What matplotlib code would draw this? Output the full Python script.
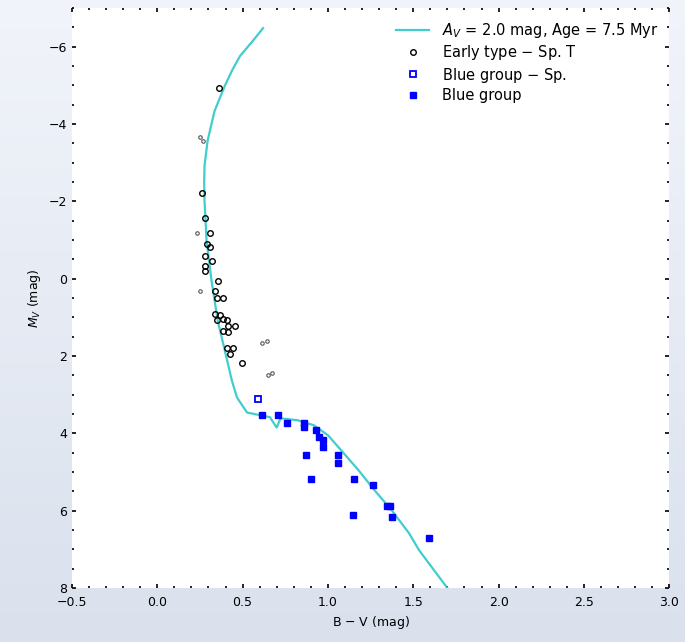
import numpy as np
import matplotlib
matplotlib.use('Agg')
import matplotlib.pyplot as plt

plt.rcParams['font.family'] = 'DejaVu Sans'
plt.rcParams['font.size'] = 9

# isochrone (A_V = 2.0 mag, 7.5 Myr)
iso_bv = [0.62, 0.56, 0.485, 0.44, 0.396, 0.336, 0.295, 0.277, 0.275, 0.277, 0.289,
          0.318, 0.354, 0.396, 0.437, 0.467, 0.526, 0.603, 0.66, 0.70, 0.722, 0.823,
          0.918, 1.001, 1.078, 1.179, 1.273, 1.374, 1.475, 1.534, 1.70]
iso_mv = [-6.48, -6.15, -5.76, -5.40, -4.99, -4.34, -3.57, -2.92, -2.5, -2.02, -0.98,
          0.05, 1.08, 1.86, 2.63, 3.07, 3.46, 3.53, 3.58, 3.85, 3.61, 3.66,
          3.79, 4.05, 4.44, 4.95, 5.47, 5.99, 6.58, 7.02, 8.0]

# early type stars with spectral types
early_bv = [0.36, 0.265, 0.277, 0.307, 0.289, 0.307, 0.277, 0.277, 0.318, 0.277,
            0.354, 0.336, 0.348, 0.384, 0.336, 0.366, 0.384, 0.348, 0.407, 0.413,
            0.455, 0.384, 0.413, 0.407, 0.443, 0.425, 0.496]
early_mv = [-4.93, -2.22, -1.58, -1.19, -0.91, -0.81, -0.60, -0.34, -0.47, -0.21,
            0.05, 0.31, 0.49, 0.49, 0.90, 0.95, 1.03, 1.08, 1.08, 1.21,
            1.21, 1.34, 1.39, 1.78, 1.78, 1.94, 2.19]
faint_bv = [0.253, 0.266, 0.235, 0.248, 0.615, 0.645, 0.650, 0.672]
faint_mv = [-3.66, -3.56, -1.19, 0.31, 1.65, 1.60, 2.50, 2.45]

# blue group, spectroscopic
bsp_bv = [0.59]
bsp_mv = [3.10]

# blue group
blue_bv = [0.615, 0.71, 0.763, 0.858, 0.858, 0.929, 0.947, 0.97, 0.97, 0.87, 1.06,
           1.06, 0.90, 1.155, 1.267, 1.345, 1.362, 1.149, 1.374, 1.594]
blue_mv = [3.53, 3.53, 3.74, 3.74, 3.84, 3.90, 4.10, 4.18, 4.36, 4.57, 4.57,
           4.77, 5.19, 5.19, 5.34, 5.88, 5.88, 6.12, 6.17, 6.71]

fig = plt.figure(figsize=(6.85, 6.42), dpi=100)
bg = fig.add_axes([0, 0, 1, 1], zorder=-10)
grad = np.linspace(0, 1, 256).reshape(-1, 1)
bg.imshow(grad, aspect='auto', cmap=matplotlib.colors.LinearSegmentedColormap.from_list(
    'bg', ['#f1f4fa', '#dae1ed']), extent=[0, 1, 0, 1])
bg.axis('off')

ax = fig.add_axes([0.105, 0.084, 0.872, 0.9035])
ax.plot(iso_bv, iso_mv, color='#2cc8c8', lw=1.6, alpha=0.9,
        label='$A_V$ = 2.0 mag, Age = 7.5 Myr')
ax.plot(early_bv, early_mv, 'o', mfc='none', mec='black', ms=4, mew=1.0,
        label='Early type $-$ Sp. T')
ax.plot(faint_bv, faint_mv, 'o', mfc='none', mec='#555555', ms=2.5, mew=0.8)
ax.plot(bsp_bv, bsp_mv, 's', mfc='none', mec='blue', ms=5, mew=1.3,
        label='Blue group $-$ Sp.')
ax.plot(blue_bv, blue_mv, 's', color='blue', ms=4.5, label='Blue group')

ax.set_xlim(-0.5, 3.0)
ax.set_ylim(8, -7)
ax.set_xticks(np.arange(-0.5, 3.01, 0.5))
ax.set_yticks(np.arange(-6, 8.1, 2))
ax.set_xlabel('B $-$ V (mag)', labelpad=3)
ax.set_ylabel('$M_V$ (mag)')
ax.minorticks_on()
ax.tick_params(which='both', direction='in', top=True, right=True, width=1.2)
ax.tick_params(which='major', length=3)
ax.tick_params(axis='x', pad=6)
ax.tick_params(which='minor', length=1.5)
for s in ax.spines.values():
    s.set_visible(False)
ax.legend(loc='upper right', frameon=False, fontsize=10.5, handlelength=2.3,
          handletextpad=0.9, labelspacing=0.22, borderaxespad=0.3,
          bbox_to_anchor=(1.0, 0.995))

plt.savefig('out.png', dpi=100)
